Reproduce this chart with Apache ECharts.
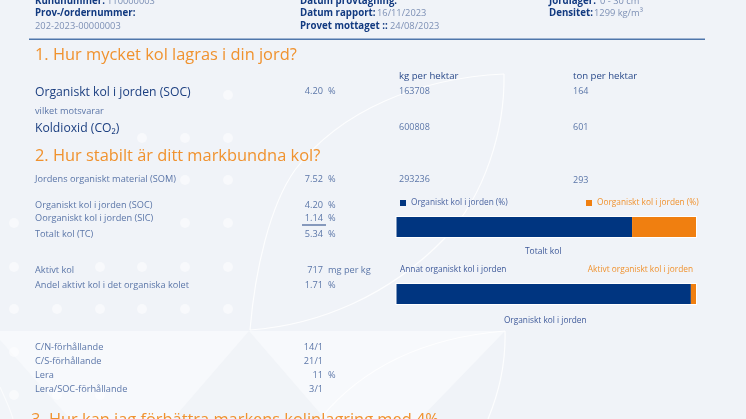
<!DOCTYPE html>
<html>
<head>
<meta charset="utf-8">
<style>html,body{margin:0;padding:0;background:#f0f3f8}#chart{width:746px;height:419px}</style>
<script src="https://cdn.jsdelivr.net/npm/echarts@6/dist/echarts.min.js"></script>
</head>
<body>
<div id="chart"></div>
<script>
const BLUE = '#003580', ORANGE = '#f07f10', TXT = '#5b76a8', DARK = '#1c3f80', HEAD = '#f0922e', BG = '#f0f3f8';
const FONT = '"Open Sans", "Noto Sans", sans-serif';

// bars
const totalCategory = ['Totalt kol'];
const totalOrganic = [4.20];
const totalInorganic = [1.14];
const socCategory = ['Organiskt kol i jorden'];
const socOther = [98.29];
const socActive = [1.71];

// table text, [text, x, y]
const headings = [
  ['1. Hur mycket kol lagras i din jord?', 35, 55],
  ['2. Hur stabilt är ditt markbundna kol?', 35, 156],
  ['3. Hur kan jag förbättra markens kolinlagring med 4%', 31, 420]
];
const metaBold = [
  ['Kundnummer:', 35, 1], ['Prov-/ordernummer:', 35, 13],
  ['Datum provtagning:', 300, 1], ['Datum rapport:', 300, 13], ['Provet mottaget ::', 300, 26],
  ['Jordlager:', 549, 1], ['Densitet:', 549, 13]
];
const metaText = [
  ['110000003', 107, 1], ['202-2023-00000003', 35, 26],
  ['16/11/2023', 377, 13], ['24/08/2023', 390, 26],
  ['0 - 30 cm', 600, 1], ['1299 kg/m³', 594, 13]
];
const bigLabels = [
  ['Organiskt kol i jorden (SOC)', 35, 92.5], ['Koldioxid (CO₂)', 35, 128.5]
];
const headers = [['kg per hektar', 399, 76], ['ton per hektar', 573, 76]];
const rowLabels = [
  ['vilket motsvarar', 35, 111], ['Jordens organiskt material (SOM)', 35, 179],
  ['Organiskt kol i jorden (SOC)', 35, 205], ['Oorganiskt kol i jorden (SIC)', 35, 218],
  ['Totalt kol (TC)', 35, 234], ['Aktivt kol', 35, 270], ['Andel aktivt kol i det organiska kolet', 35, 285],
  ['C/N-förhållande', 35, 347], ['C/S-förhållande', 35, 361], ['Lera', 35, 375], ['Lera/SOC-förhållande', 35, 389]
];
const rowValues = [
  ['4.20', 323, 91], ['7.52', 323, 179], ['4.20', 323, 205], ['1.14', 323, 218], ['5.34', 323, 234],
  ['717', 323, 270], ['1.71', 323, 285], ['14/1', 323, 347], ['21/1', 323, 361], ['11', 323, 375], ['3/1', 323, 389]
];
const rowUnits = [
  ['%', 328, 91], ['%', 328, 179], ['%', 328, 205], ['%', 328, 218], ['%', 328, 234],
  ['mg per kg', 328, 270], ['%', 328, 285], ['%', 328, 375]
];
const kgValues = [['163708', 399, 91], ['600808', 399, 127], ['293236', 399, 179]];
const tonValues = [['164', 573, 91], ['601', 573, 127], ['293', 573, 180]];

// background dots
const dotRows = [[95, [228]], [138, [142, 185, 228]], [180, [185, 228]], [223, [14, 185, 228]],
  [267, [14, 100, 142, 185, 228]], [309, [14, 57, 100, 142, 185, 228]], [352, [14]], [395, [14, 57, 100]]];

function texts(list, size, fill, weight, align) {
  return list.map(t => ({
    type: 'text', x: t[1], y: t[2], z: 5, silent: true,
    style: { text: t[0], fill: fill, font: (weight || 400) + ' ' + size + 'px ' + FONT,
      textAlign: align || 'left', textVerticalAlign: 'middle' }
  }));
}
const dots = [];
dotRows.forEach(r => r[1].forEach(x => dots.push({
  type: 'circle', shape: { cx: x, cy: r[0], r: 5 }, z: 1, silent: true,
  style: { fill: 'rgba(255,255,255,0.5)' }
})));
function curve(x1, y1, cpx1, cpy1, cpx2, cpy2, x2, y2, alpha) {
  return { type: 'bezierCurve', z: 1, silent: true, shape: { x1, y1, cpx1, cpy1, cpx2, cpy2, x2, y2 },
    style: { fill: 'none', stroke: 'rgba(255,255,255,' + (alpha || 0.85) + ')', lineWidth: 1.2 } };
}

const chart = echarts.init(document.getElementById('chart'));
chart.setOption({
  animation: false,
  backgroundColor: BG,
  textStyle: { fontFamily: FONT },
  legend: [
    { data: ['Organiskt kol i jorden (%)'], left: 395, top: 194, icon: 'rect', itemWidth: 6, itemHeight: 6,
      textStyle: { color: '#4a64a0', fontSize: 8.3, fontFamily: FONT } },
    { data: ['Oorganiskt kol i jorden (%)'], left: 581, top: 194, icon: 'rect', itemWidth: 6, itemHeight: 6,
      textStyle: { color: HEAD, fontSize: 8.3, fontFamily: FONT } }
  ],
  grid: [
    { left: 396.5, top: 217, width: 299.5, height: 20 },
    { left: 396.5, top: 284, width: 299.5, height: 20 }
  ],
  xAxis: [
    { gridIndex: 0, type: 'value', min: 0, max: 5.34, axisLine: { show: false }, axisTick: { show: false },
      axisLabel: { show: false }, splitLine: { show: false },
      name: totalCategory[0], nameLocation: 'middle', nameGap: 10,
      nameTextStyle: { color: '#3f5a9a', fontSize: 8.5, fontFamily: FONT, padding: [0, 6, 0, 0] } },
    { gridIndex: 1, type: 'value', min: 0, max: 100, axisLine: { show: false }, axisTick: { show: false },
      axisLabel: { show: false }, splitLine: { show: false },
      name: socCategory[0], nameLocation: 'middle', nameGap: 13,
      nameTextStyle: { color: '#3f5a9a', fontSize: 8.3, fontFamily: FONT, padding: [0, 2, 0, 0] } }
  ],
  yAxis: [
    { gridIndex: 0, type: 'category', data: totalCategory, show: false },
    { gridIndex: 1, type: 'category', data: socCategory, show: false }
  ],
  series: [
    { name: 'Organiskt kol i jorden (%)', type: 'bar', stack: 'a', xAxisIndex: 0, yAxisIndex: 0, data: totalOrganic,
      barWidth: 20, itemStyle: { color: BLUE }, z: 4 },
    { name: 'Oorganiskt kol i jorden (%)', type: 'bar', stack: 'a', xAxisIndex: 0, yAxisIndex: 0, data: totalInorganic,
      barWidth: 20, itemStyle: { color: ORANGE }, z: 4 },
    { name: 'Annat organiskt kol i jorden', type: 'bar', stack: 'b', xAxisIndex: 1, yAxisIndex: 1, data: socOther,
      barWidth: 20, itemStyle: { color: BLUE }, z: 4 },
    { name: 'Aktivt organiskt kol i jorden', type: 'bar', stack: 'b', xAxisIndex: 1, yAxisIndex: 1, data: socActive,
      barWidth: 20, itemStyle: { color: ORANGE }, z: 4 }
  ],
  graphic: [
    // lighter lower panel
    { type: 'rect', shape: { x: 0, y: 331, width: 505, height: 88 }, z: 0, silent: true, style: { fill: '#f7f9fc' } },
    { type: 'polygon', shape: { points: [[249, 331], [173, 419], [325, 419]] }, z: 0, silent: true, style: { fill: '#f1f4f8' } },
    { type: 'polygon', shape: { points: [[505, 331], [420, 419], [505, 419]] }, z: 0, silent: true, style: { fill: BG } },
    { type: 'polygon', shape: { points: [[0, 340], [0, 419], [70, 419]] }, z: 0, silent: true, style: { fill: '#f2f5f9' } },
    ...dots,
    // leaf outlines
    curve(504, 74, 420, 78, 340, 110, 295, 170),
    curve(295, 170, 270, 205, 255, 270, 250, 330),
    curve(504, 74, 505, 130, 485, 195, 445, 238),
    curve(445, 238, 390, 295, 320, 325, 250, 330),
    curve(505, 331, 420, 338, 360, 370, 320, 419),
    curve(505, 331, 506, 365, 498, 395, 488, 419),
    curve(0, 387, 5, 398, 10, 408, 13, 419, 0.6),
    // rules
    { type: 'rect', z: 3, silent: true, shape: { x: 29, y: 38.5, width: 676, height: 1.5 }, style: { fill: '#4f76ab' } },
    { type: 'rect', z: 3, silent: true, shape: { x: 302, y: 224.5, width: 24, height: 1 }, style: { fill: '#1c3f80' } },
    // white outlines behind bars
    { type: 'rect', z: 1, silent: true, shape: { x: 395.5, y: 216, width: 301.5, height: 22 }, style: { fill: '#fff' } },
    { type: 'rect', z: 1, silent: true, shape: { x: 395.5, y: 283, width: 301.5, height: 22 }, style: { fill: '#fff' } },
    ...texts(headings, 16.4, HEAD),
    ...texts(metaBold, 9.7, '#123a80', 700),
    ...texts(metaText, 9.3, '#7d90b5'),
    ...texts(bigLabels, 12.2, DARK),
    ...texts(headers, 9.6, '#2a4a8a'),
    ...texts(rowLabels, 9.2, TXT),
    ...texts(rowValues, 9.2, TXT, 400, 'right'),
    ...texts(rowUnits, 9.2, TXT),
    ...texts(kgValues, 9, TXT),
    ...texts(tonValues, 9, TXT),
    ...texts([['Annat organiskt kol i jorden', 400, 270]], 8.3, '#3f5a9a'),
    ...texts([['Aktivt organiskt kol i jorden', 693, 270]], 8.3, HEAD, 400, 'right')
  ]
});
</script>
</body>
</html>
